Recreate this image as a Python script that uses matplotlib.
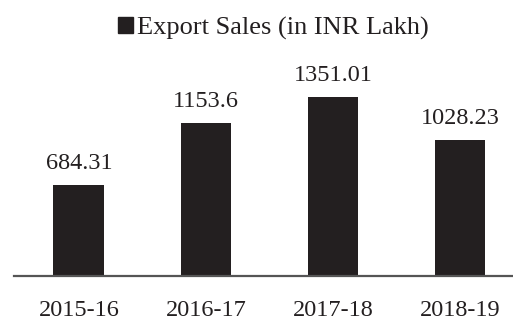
import numpy as np
import matplotlib.pyplot as plt
from matplotlib.patches import Patch

plt.rcParams['font.family'] = ['Liberation Serif', 'DejaVu Serif']

years = ['2015-16', '2016-17', '2017-18', '2018-19']
export_sales = [684.31, 1153.6, 1351.01, 1028.23]
value_labels = ['684.31', '1153.6', '1351.01', '1028.23']
series_name = 'Export Sales (in INR Lakh)'

ink = '#231f20'

fig = plt.figure(figsize=(5.13, 3.2), dpi=100)
ax = fig.add_axes([0.027, 0.1375, 0.973, 0.70])

x = np.arange(len(years))
bars = ax.bar(x, export_sales, width=0.40, color=ink)

for b, txt in zip(bars, value_labels):
    ax.annotate(txt, (b.get_x() + b.get_width() / 2, b.get_height()),
                xytext=(0, 8), textcoords='offset points',
                ha='center', va='bottom', fontsize=17.5, color=ink)

ax.set_xlim(-0.512, 3.417)
ax.set_ylim(0, 1690)
ax.set_xticks(x)
ax.set_xticklabels(years, fontsize=17.5, color=ink)
ax.tick_params(axis='x', length=0, pad=17)
ax.set_yticks([])

for s in ['top', 'right', 'left']:
    ax.spines[s].set_visible(False)
ax.spines['bottom'].set_color('#555555')
ax.spines['bottom'].set_linewidth(1.6)

fig.legend(handles=[Patch(color=ink)], labels=[series_name],
           loc='center', bbox_to_anchor=(0.533, 0.9125), frameon=False,
           fontsize=19, handlelength=0.55, handleheight=0.55,
           handletextpad=0.15, labelcolor=ink)

plt.savefig('out.png', dpi=100)
